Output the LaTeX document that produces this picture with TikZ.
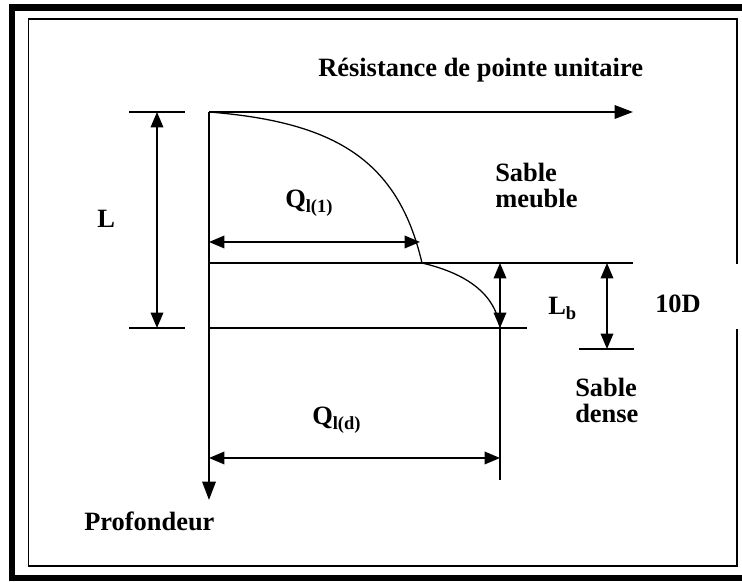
\documentclass[tikz,border=0pt]{standalone}
\usepackage{fontspec}
\setmainfont{Liberation Serif}
\usetikzlibrary{arrows.meta}
\tikzset{
  paxis/.style ={line width=1.4pt, -{Triangle[length=13pt, width=9.5pt]}},
  pdim/.style  ={line width=1.1pt, {Triangle[length=11pt, width=9pt]}-{Triangle[length=11pt, width=9pt]}},
  pline/.style ={line width=1.3pt},
  ptick/.style ={line width=1.3pt},
  pcurve/.style={line width=0.9pt},
  plabel/.style={anchor=base west, inner sep=0pt, align=left,
                 font=\bfseries\fontsize{18.8}{18.5}\selectfont},
  pframe/.style={line width=1.4pt},
  pband/.style ={line width=4.5pt},
}

\begin{document}
\begin{tikzpicture}
\clip (0,0) rectangle (18.55,14.55);
\useasboundingbox (0,0) rectangle (18.55,14.55);
% frames
\draw[pband] (0.3,0.1) rectangle (18.9,14.36);
\draw[pframe] (18.425,7.95) -- (18.425,14.075) -- (0.7125,14.075) -- (0.7125,0.4) -- (18.425,0.4) -- (18.425,6.325);
% axes
\coordinate (o)  at (5.225,11.75);
\coordinate (ox) at (15.825,11.75);
\coordinate (oy) at (5.225,2.05);
\draw[paxis] (o) -- (ox);
\draw[paxis] (o) -- (oy);
% layer limits
\coordinate (s1) at (5.225,7.975);  \coordinate (s1e) at (15.825,7.975);
\coordinate (s2) at (5.225,6.35);   \coordinate (s2e) at (13.175,6.35);
\draw[pline] (s1) -- (s1e);
\draw[pline] (s2) -- (s2e);
% resistance curve
\coordinate (c1) at (10.55,7.975);
\coordinate (c2) at (12.5,6.35);
\draw[pcurve] (o) .. controls (8.375,11.5) and (9.95,10.55) .. (c1)
              .. controls (11.5,7.75) and (12.375,7.3) .. (c2);
\coordinate (c3) at (12.5,2.55);
\draw[pline] (c2) -- (c3);
% L
\coordinate (lt1) at (3.225,11.75); \coordinate (lt2) at (4.625,11.75);
\coordinate (lb1) at (3.225,6.35);  \coordinate (lb2) at (4.625,6.35);
\draw[ptick] (lt1) -- (lt2);
\draw[ptick] (lb1) -- (lb2);
\coordinate (la) at (3.925,11.75); \coordinate (lz) at (3.925,6.35);
\draw[pdim] (la) -- (lz);
% Q arrows
\coordinate (q1a) at (5.225,8.5); \coordinate (q1z) at (10.5,8.5);
\draw[pdim] (q1z) -- (q1a);
\coordinate (qda) at (5.225,3.1); \coordinate (qdz) at (12.5,3.1);
\draw[pdim] (qda) -- (qdz);
% Lb and 10D
\coordinate (lba) at (12.5,7.975); \coordinate (lbz) at (12.5,6.35);
\draw[pdim] (lba) -- (lbz);
\coordinate (ta) at (15.175,7.975); \coordinate (tz) at (15.175,5.825);
\draw[pdim] (ta) -- (tz);
\coordinate (tt1) at (14.475,5.825); \coordinate (tt2) at (15.85,5.825);
\draw[ptick] (tt1) -- (tt2);
% labels
\node[plabel] (title) at (7.95,12.625) {Résistance de pointe unitaire};
\node[plabel] (meuble) at (12.375,9.35) {Sable\\meuble};
\node[plabel] (dense) at (14.375,3.975) {Sable\\dense};
\node[plabel] (q1) at (7.125,9.35) {Q\textsubscript{l(1)}};
\node[plabel] (qd) at (7.8,3.925) {Q\textsubscript{l(d)}};
\node[plabel] (l) at (2.425,8.85) {L};
\node[plabel] (lb) at (13.7,6.675) {L\textsubscript{b}};
\node[plabel] (tenD) at (16.375,6.725) {10D};
\node[plabel] (prof) at (2.1,1.275) {Profondeur};
\end{tikzpicture}
\end{document}
